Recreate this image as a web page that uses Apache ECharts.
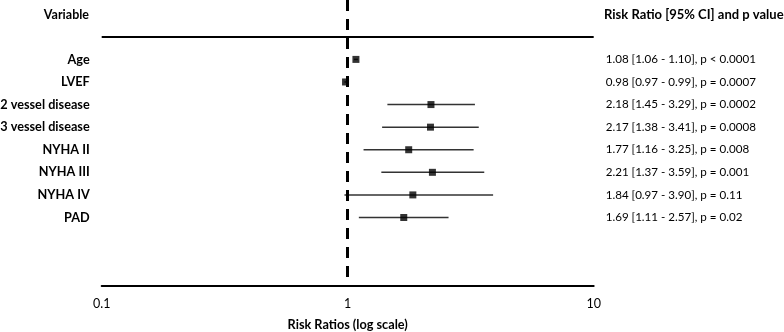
<!DOCTYPE html>
<html>
<head>
<meta charset="utf-8">
<script src="https://cdn.jsdelivr.net/npm/echarts@6/dist/echarts.min.js"></script>
<style>
html, body { margin: 0; padding: 0; background: #fff; }
#main { width: 784px; height: 332px; }
</style>
</head>
<body>
<div id="main"></div>
<script>
// data
var variables = ['Age', 'LVEF', '2 vessel disease', '3 vessel disease', 'NYHA II', 'NYHA III', 'NYHA IV', 'PAD'];
var riskRatio = [1.08, 0.98, 2.18, 2.17, 1.77, 2.21, 1.84, 1.69];
var ciLow = [1.06, 0.97, 1.45, 1.38, 1.16, 1.37, 0.97, 1.11];
var ciHigh = [1.10, 0.99, 3.29, 3.41, 3.25, 3.59, 3.90, 2.57];
var pValues = ['p < 0.0001', 'p = 0.0007', 'p = 0.0002', 'p = 0.0008', 'p = 0.008', 'p = 0.001', 'p = 0.11', 'p = 0.02'];
var rows = [1, 2, 3, 4, 5, 6, 7, 8];
var xTicks = [0.1, 1, 10];

var font = 'Lato';

var ciText = rows.map(function (r, i) {
    return riskRatio[i].toFixed(2) + ' [' + ciLow[i].toFixed(2) + ' - ' + ciHigh[i].toFixed(2) + '], ' + pValues[i];
});

var chart = echarts.init(document.getElementById('main'));
chart.setOption({
    animation: false,
    textStyle: { fontFamily: font },
    title: [
        {
            text: 'Variable',
            right: 695, top: 8, padding: 0,
            textStyle: { fontFamily: font, fontSize: 12.5, fontWeight: 'bold', color: '#000' }
        },
        {
            text: 'Risk Ratio [95% CI] and p value',
            left: 604, top: 8, padding: 0,
            textStyle: { fontFamily: font, fontSize: 13, fontWeight: 'bold', color: '#000' }
        }
    ],
    grid: { left: 101.7, right: 190.3, top: 0, bottom: 46.3, outerBoundsMode: 'none' },
    xAxis: {
        type: 'log',
        logBase: 10,
        min: 0.1,
        max: 10,
        axisLine: { show: true, onZero: false, lineStyle: { color: '#000', width: 2 } },
        axisTick: { show: false },
        splitLine: { show: false },
        axisLabel: {
            color: '#000', fontSize: 12.5, margin: 12,
            formatter: function (v) {
                var best = xTicks.reduce(function (a, b) { return Math.abs(b - v) < Math.abs(a - v) ? b : a; });
                return String(best);
            }
        },
        name: 'Risk Ratios (log scale)',
        nameLocation: 'middle',
        nameGap: 33,
        nameTextStyle: { color: '#000', fontSize: 12.7, fontWeight: 'bold' }
    },
    yAxis: [
        {
            type: 'value',
            inverse: true,
            min: -1.63,
            max: 11.02,
            axisLine: { show: false },
            axisTick: { show: false },
            splitLine: { show: false },
            axisLabel: {
                customValues: rows,
                color: '#000', fontSize: 12.7, fontWeight: 'bold', margin: 12,
                formatter: function (v) { return variables[v - 1]; }
            }
        },
        {
            type: 'value',
            position: 'right',
            inverse: true,
            min: -1.63,
            max: 11.02,
            axisLine: { show: false },
            axisTick: { show: false },
            splitLine: { show: false },
            axisLabel: {
                customValues: rows,
                color: '#000', fontSize: 11.6, margin: 12,
                formatter: function (v) { return ciText[v - 1]; }
            }
        }
    ],
    series: [
        {
            type: 'custom',
            name: 'CI',
            encode: { x: [0, 1], y: 2 },
            data: rows.map(function (r, i) { return [ciLow[i], ciHigh[i], r]; }),
            renderItem: function (params, api) {
                var a = api.coord([api.value(0), api.value(2)]);
                var b = api.coord([api.value(1), api.value(2)]);
                return {
                    type: 'line',
                    shape: { x1: a[0], y1: a[1], x2: b[0], y2: b[1] },
                    style: { stroke: '#333', lineWidth: 1.5 }
                };
            }
        },
        {
            type: 'scatter',
            name: 'Risk ratio',
            symbol: 'rect',
            symbolSize: 7,
            itemStyle: { color: '#000' },
            data: rows.map(function (r, i) { return [riskRatio[i], r]; }),
            markLine: {
                silent: true,
                symbol: 'none',
                label: { show: false },
                data: [
                    { xAxis: 1, lineStyle: { color: '#000', width: 3, type: [11, 8] } },
                    { yAxis: 0, lineStyle: { color: '#000', width: 2, type: 'solid' } }
                ]
            }
        }
    ]
});
</script>
</body>
</html>
